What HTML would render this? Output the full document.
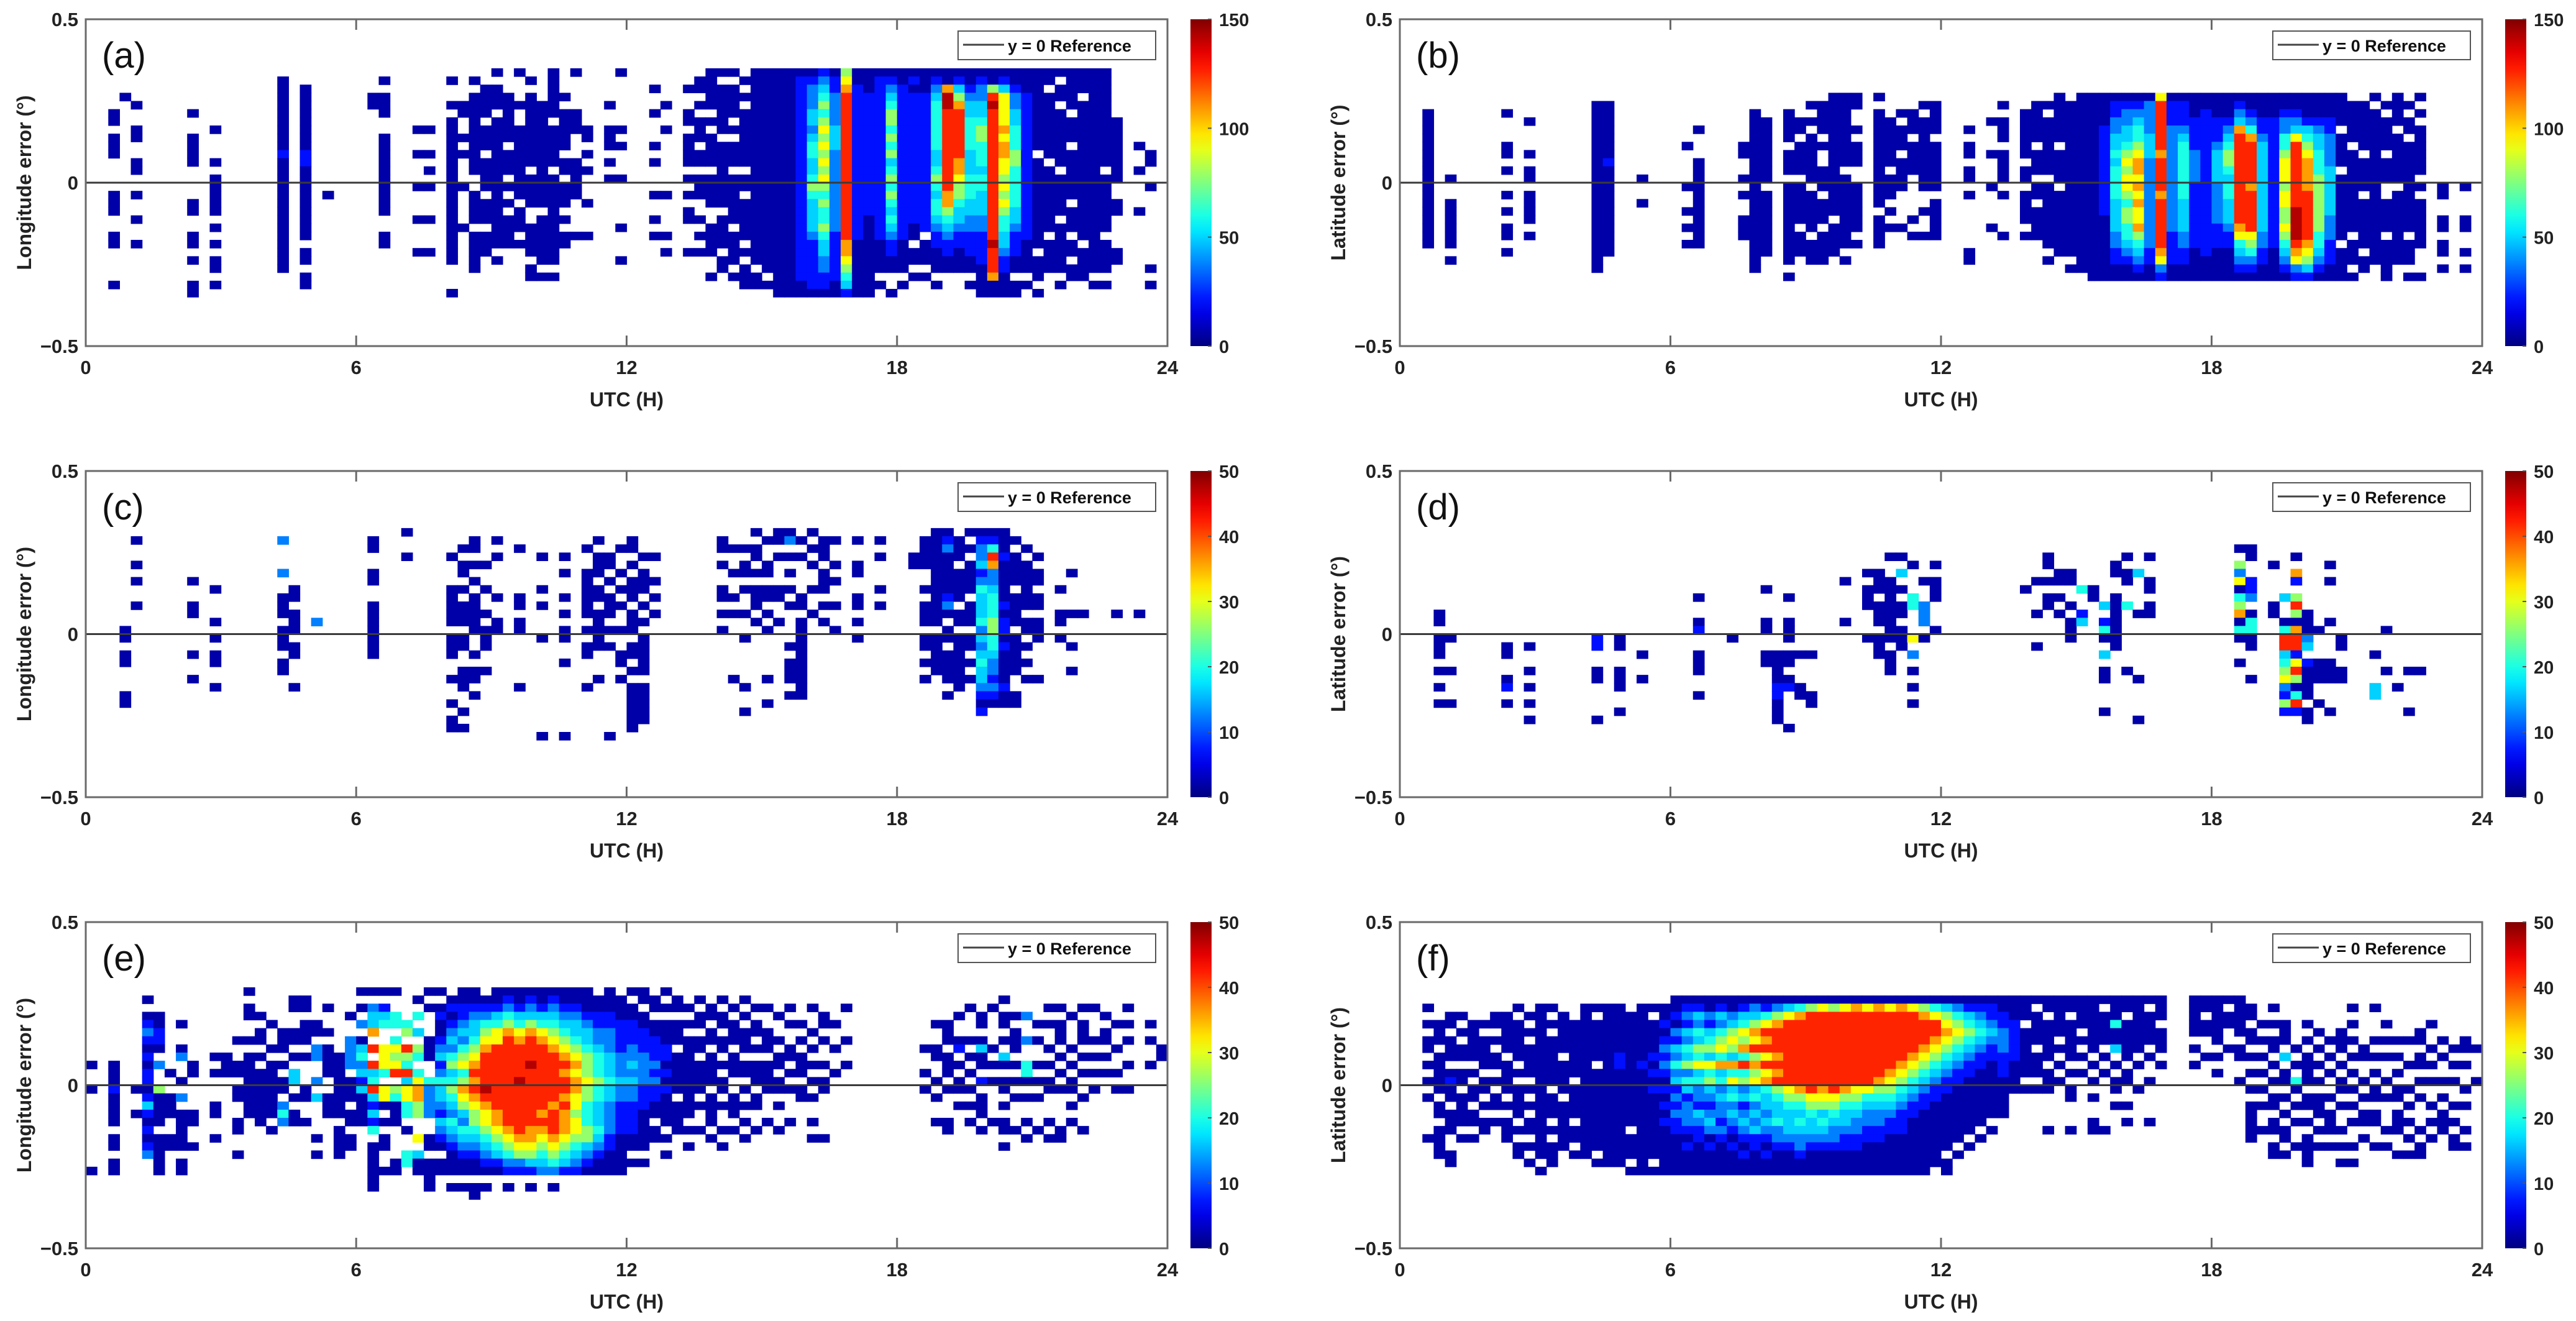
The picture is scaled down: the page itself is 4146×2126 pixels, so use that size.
<!DOCTYPE html>
<html><head><meta charset="utf-8"><style>
html,body{margin:0;padding:0;background:#fff;width:4146px;height:2126px;overflow:hidden}
svg{display:block;font-family:"Liberation Sans",Arial,sans-serif}
</style></head><body>
<svg id="fig" width="4146" height="2126" viewBox="0 0 4146 2126" xmlns="http://www.w3.org/2000/svg">
<defs><linearGradient id="jetgrad" x1="0" y1="1" x2="0" y2="0"></linearGradient></defs>
</svg>
<script>
// ---- data: columns "timeBin:levels" (time bin = 0.25 h; rows of 0.025 deg from +0.4 downward; '.' = empty; digit = count level)
const xTicks = [0, 6, 12, 18, 24];
const yTicks = [0.5, 0, -0.5];
const cbTicksAB = [0, 50, 100, 150];
const cbTicksCF = [0, 10, 20, 30, 40, 50];
const levelFrac = [0.04, 0.14, 0.25, 0.33, 0.40, 0.52, 0.62, 0.72, 0.84, 0.95];

const dataA = [
"2:.......00. 000....000 ..00....0.","3:.....0.... .......... ..........","4:......0..0 0..00..0.. 0..0......",
"9:.......0.. 0000....00 ..00.0..00","11:.........0 ...0.00000 .0.0.00.0.","17:...0000000 0010000000 0000000...",
"19:....000000 0011000000 000.00.00.","21:.......... .......0.. ..........","25:.....00... .......... ..........",
"26:...0.000.. 0000000000 ..00......","29:.........0 ..0...0... 0...0.....","30:.........0 ..0.0.0... 0...0.....",
"32:...0..0.00 0000000000 000000...0","33:......00.. 0.0...0... .0........","34:...0.00000 00000..000 0.00000...",
"35:....0000.0 00.0000.00 0.000.....","36:..0.000.00 0000000000 0000.0....","37:.....00000 0.000.0.0. 0000......",
"38:..0...0..0 00000000.0 00.0......","39:...0.00000 0000.0000. .0000.00..","40:......0000 000000000. 000000.0..",
"41:..000000.0 0000.00000 000000.0..","42:.....0.000 00.00.000. 0.00......","43:..0....000 ...00000.. ..0.......",
"44:.........0 0.0.0...0. ..0.......","46:......0..0 00.0.0.... ..........","47:..0......0 .0...0.... .0...0....",
"50:....0..0.. .0.0...0.. 0.0.......","51:......0..0 .......0.. ..0.0.....","53:....0..00. 0000.0.0.0 0...0.....",
"54:...00.0.00 0.00.000.. 0.0.0.....","55:..00000.0. 0000.0000. .0000..0..","56:..0.000000 .00000000. 0000.00...",
"57:..0.0000.0 .000.00000 0.0000.0..","58:...0.0.000 0000.00.00 000.0.000.","59:..00000000 0000000000 000000.00.",
"60:..00000000 0000000000 0000000.0.","61:..00000000 0000000000 0000000000","62:..00000000 0000000000 0000000000",
"63:..01111111 1111111111 1111111100","64:..01222332 3443345433 3321111110","65:..12345456 5656565454 4543322110",
"66:..01122223 3322222222 2211111100","67:..56788888 8888888888 8887765431","68:..00111111 1111111111 1110000000",
"69:..00011111 1111111111 0000000000","70:..01111111 1111111111 1110000.0.","71:..01234554 5453454543 4321100..0",
"72:..00111111 1111111111 1110000.0.","73:..01011111 1111111111 100.00.0..","74:..00011111 1111111111 11.000.0..",
"75:..01234444 4433454344 3211000.0.","76:..00799888 8888888775 4321100...","77:..01357888 8887765543 3211000...",
"78:..00123344 4433344433 2211100.0.","79:..01223345 5444344333 2211110000","80:..00589888 8888888888 8889888700",
"81:..01366667 6776656565 4433211000","82:..00122334 4455444443 3211100.00","83:..00011111 1111111111 1110000.0.",
"84:..00000000 00.0000000 0000.000.0","85:..00.00000 000.000000 00.0000...","86:..0.00.000 0000.00000 .000000.0.",
"87:..00000.00 0.000000.0 00.00.00..","88:..000.0000 0000000000 000.0000..","89:..00000000 0000000000 0000000.0.",
"90:..00000000 0000.00000 00.0000.0.","91:........00 000000..00 ....00....","93:.......... .0..0....0 ..........",
"94:.......... ..00..0... ......0.0."
];
const dataB = [
"2:.......000 0000000000 0000......","4:.......... .....0..00 0000.0....","9:.......0.. .00.0..0.0 .00.0.....",
"11:........0. ..0.00.000 0.0.......","17:......0000 0000000000 0000000...","18:......0000 0001000000 00000.....",
"21:.......... .....0..0. ..........","25:.......... .0....0..0 .0.0......","26:.........0 ...0000000 0000......",
"30:.......... .00..0.0.. 000.......","31:.......000 0000000000 0000000...","32:........00 000000.000 00000.....",
"34:.......000 0.000.0000 000000.0..","35:........00 .0000.0000 0.000.....","36:......0.0. 000000.000 00.000....",
"37:......0000 .0..000.00 0.0000....","38:.....00000 0000000000 .0000.....","39:.....00000 0000.00000 0000.0....",
"40:.....00..0 .000..0000 00.0......","42:.....0.000 000000000. 0000......","43:........00 0000.000.0 .0........",
"44:.......0.0 00.0000... .0........","45:.......000 .0000..... 0.0.......","46:......0.00 0000000..0 ..0.......",
"47:......0000 .000000.00 000.......","50:.........0 .00.00.0.. ....00....","52:........0. ..0...0... .0........",
"53:......0.00 0.0000.0.. ..0.......","55:.......000 000.00.000 0.0.......","56:......0000 0.000.00.0 000.......",
"57:......0.00 00000.0000 0000.0....","58:.....00000 0.0000.000 00000.....","59:......0000 0000000000 00000.0...",
"60:.....00000 0000000000 0000000...","61:.....00000 0000000000 00000000..","62:.....00001 1111111111 00000000..",
"63:.....01122 3343444433 33221100..","64:.....01223 3456566545 54432100..","65:.....01234 4567767676 67543210..",
"66:.....02222 3332222222 22221100..","67:.....68888 8878888788 88887621..","68:.....01112 2222222222 22111100..",
"69:.....01112 3444444433 33221100..","70:.....00011 1122221111 11110000..","71:.....00111 1111111111 11111000..",
"72:.....00011 1233332222 21110000..","73:.....00012 3455434433 32110000..","74:.....01237 8888888888 87643210..",
"75:.....00124 7888887888 88654210..","76:.....00011 2333333333 33221100..","77:.....00011 1111111111 11110000..",
"78:.....00122 4456665665 56543210..","79:.....00123 6888888889 99987621..","80:.....00013 4567777888 88876531..",
"81:.....00012 3344455555 55443210..","82:.....00011 2222333333 22211100..","83:.....0000. 0000.00000 000.0000..",
"84:......0000 0.00000000 00.000.0..","85:......0000 00.0000.00 0000.00...","86:.....0.000 0000000000 000000....",
"87:......0.00 00.000..00 00.00000..","88:.....0000. 000000.000 000000....","89:......0.00 .000000000 00.000.0..",
"90:.....0.0.0 00000.0.00 0000...0..","92:.......... ......00.. 00.00.0...","94:.......... ......0... 00..0.0..."
];
const dataC = [
"3:.......... .....00.00 ...00.....","4:....0..0.0 ..0....... ..........","9:.........0 ..00....0. .0........",
"11:.......... 0...0.0.00 ..0.......","17:....2...2. .000.000.0 0.........","18:.......... 00.000.00. ..0.......",
"20:.......... ....2..... ..........","25:....00..00 ..0000000. ..........","28:...0..0... .......... ..........",
"32:......0... 00000.000. .0..0.00..","33:.....0.00. 0.000.00.. 000..0.0..","34:....00.0.0 .00000..0. 00.0......",
"35:.......0.. 0..0.000.. 0.........","36:....0.0... .0..00.... ..........","38:.....0.... .00.00.... ..0.......",
"40:......0... 0.0...0... ........0.","42:......0.0. .0.0.00..0 ........0.","44:.....0..00 0000.0.00. ..0.......",
"45:....0.000. 00.00000.. .0........","46:......00.0 .000.0.0.. ........0.","47:.....0..0. 0.0..0..00 .0........",
"48:....00.0.0 00.000.00. 0.000000..","49:......0.00 0.0.0.0000 0.00000...","50:......0..0 .0.0...... ..........",
"56:....00.0.. 00.0.0.... ..........","57:.....0..0. .0.0...... .0........","58:.....0.00. 0..0..0... ..0..0....",
"59:...0.00.0. 000.0..... ..........","60:....0..00. 00.0.0.... .0..0.....","61:...00.0... 00..0..... ..........",
"62:...02.0.0. 0.0....0.0 00.0......","63:....0.0... .00.000000 0000......","64:...0.0.0.. 0..0...... ..........",
"65:....000.00 0.0.0..... ..........","66:....0..0.0 ..0..0.... ..........","68:....0..00. .00.0.0... ..........",
"70:....0.0... 0.0....... ..........","73:......00.. .......... ..........","74:....0000.. 0.000.00.0 .0........",
"75:...0000000 00000.0000 0.........","76:...0120000 0120.00.00 00.0......","77:....000.00 00.00.0000 000.......",
"78:...0.0.000 0.000.00.0 .0........","79:...0122312 4333423234 332101....","80:...0148722 3444554432 21210.....",
"81:...0001000 0010110100 00100.....","82:....0.0000 .0000.0000 0..00.....","83:.....0.000 000.00.0.0 .0........",
"84:......0.00 .00.000... .0........","86:.......... 0..00.0... ..........","87:........0. ...0...0.. 0.........",
"88:.......... ...0...... ..........","91:.......... ...0...... ..........","93:.......... ...0...... .........."
];
const dataD = [
"3:.......... ...00.000. 0.0.0.....","4:.......... ......0... 0...0.....","9:.......... .......00. .01.0.....",
"11:.......... .......0.. 0.0.0.0...","17:.......... ......11.. 00....0...","19:.......... ......00.. 000..0....",
"21:.......... ........0. .0........","26:.......... .0..01..00 0..0......","29:.......... ......0... ..........",
"32:.......... 0...00..00 ..........","33:.......... ........00 0011000...","34:.......... .0..000.00 .01....0..",
"35:.......... ........0. ..00......","36:.......... ........0. ...00.....","39:.........0 ....0..... ..........",
"41:........0. 000...0... ..........","42:........00 0.000.000. ..........","43:......0..0 0000000.00 0.........",
"44:......0.3. 0.00.000.. ..........","45:.......0.. .44...6.2. 0.0.0.....","46:.........0 ..222.0... ..........",
"47:.......0.0 00...0.... ..........","55:.......... 0......... ..........","56:.........0 ...0...0.. ..........",
"57:......00.0 .00....... ..........","58:........00 .0.0...... ..........","59:........00 ..0.000... ..........",
"60:.......... 4..13..... ..........","61:.......... 00........ ..........","62:.......... ..3.140.3. 00...0....",
"63:.......00. .0000000.. ..........","64:......0.00 ..4....... 0.........","65:........3. ...0...... .0....0...",
"66:......0..0 0.00...... ..........","74:.....0.526 0457040..0 ..........","75:.....00..1 12.04400.. .0........",
"77:.......0.. ..00...... ..........","78:.......... .3..048834 562151....","79:......0.71 .585078816 850481....",
"80:.......... ...00023.1 0000.00...","81:.......... .....0...0 00..0.....","82:.......0.0 ....0....0 00...0....",
"83:.......... ......00.. 00........","86:.......... ........0. ..33......","87:.......... .....0.... 0.........",
"88:.......... .......... ..0.......","89:.......... .......... 0....0....","90:.......... .......... 0........."
];
const dataE = [
"0:.......... ...0..0... ......0...","2:.......... ...0001000 0.00.00...","4:.......... ......0..0 ..........",
"5:.....0.012 1010110131 01012.....","6:.......001 10.2..5000 0.00000...","7:.......... ....0..000 ..00......",
"8:........0. .02..0.2.0 0000.00...","9:.......... ...00....0 0..0......","11:.......... ..0.0...00 ..0.......",
"12:.......... ..000..... ..........","13:.......... 0..00.00.. 00..0.....","14:....0.00.. 0.00000000 ..........",
"15:.......0.0 0.0.000000 0.........","16:........0. .0.0000000 .0........","17:.........0 00.0.00.24 2.........",
"18:.....00..0 0.0.33.0.0 0.........","19:.....00.00 0.0...00.. 0.........","20:........00 .22..2.3.. ..0.0.....",
"21:......0..0 .0000..000 ..........","22:.......... ..00000000 .0000.....","23:.......0.. 2222.000.0 0.00......",
"24:....0.0.2. 0342313000 0.........","25:....0.2337 .8.8348313 14.000000.","26:....0.134. .6664.660. 0.00..0...",
"27:....0..44. 46568.5400 0....00...","28:........45 .854836644 .0..44....","29:.....0.4.3 .54.467755 ..6.300...",
"30:....0.0... 000..42222 ..00.0000.","31:....0.0100 1231243321 3210.00...","32:.....01012 3245345432 4321000.0.",
"33:....001123 2456457653 2432100.0.","34:....001233 4567878765 5432100.00","35:.....01245 6788889876 6543210.0.",
"36:....001346 6888888887 7654310...","37:....012457 8888888888 8765421.0.","38:....001346 7888898888 8876521...",
"39:....012357 8889888888 8776531.0.","40:....001346 7888888887 8765432...","41:....012345 6788888878 8876542.0.",
"42:....001234 5678788787 7765431...","43:....001233 4567677665 6654321...","44:....000123 3455565544 4553210...",
"45:.....00112 2344454433 3432100...","46:....000112 2233343322 2211000...","47:.....00011 1122232211 1100000...",
"48:....0.0011 1223232211 1100.0....","49:....00.001 1122221110 0000.0....","50:.....00.00 1112121100 .00.......",
"51:....0.0.00 0110101000 0.0.0.....","52:.....00.00 0.00000.00 00........","53:......0.0. 0000000000 .0.0......",
"54:.....0.00. 00.0000.0. .0........","55:......00.0 0.0000.000 0.0.......","56:.....0.00. 00.0.00.0. .0.0......",
"57:......0.00 0.000..000 .0........","58:.....0.0.0 00.00.0.0. 0.0.......","59:......0.00 .0.000.00. .0........",
"60:......0..0 00.0000... 0.........","61:.......0.. 0.00.00.0. .0........","62:......0.0. .00.0.0... 0.........",
"63:........0. 0.000.00.. ..........","64:......0..0 .0.0.0.0.. 0.0.......","65:.......00. 0..0.00... ..0.......",
"66:........0. .0..0..... ..........","67:......0... 0..0...... ..........","74:.......... .0..0.0... ..........",
"75:........0. .00..0.0.. 0.........","76:........00 0.000.0... 00........","77:.......0.. 01.0.00.0. ..........",
"78:......0... 0.0.0.0.0. 0.........","79:.......00. 0300.1.000 .0........","80:......0... .0.0.0.... 0.........",
"81:.....0.00. 0.30.00.0. 00.0......","82:.......0.0 00.0.0.0.. .0........","83:.......2.. 2..440.0.. 0.0.......",
"84:........0. 0..0.0.0.. .0........","85:......0.0. .0.0.00... 0.0.......","86:......0.00 0.0.0.0... .00.......",
"87:.......0.. .0.0.00.0. 0.........","88:......0.00 0.0.0..0.. .0........","89:......0... 0.0.0.0... ..........",
"90:.......0.0 0.0.0..... ..........","91:........0. .0..0.0... ..........","92:......0.0. 0..0..0... ..........",
"94:........0. 0..0...... ..........","95:.......... .00....... .........."
];
const dataF = [
"2:......0.0. 00.0.0.0.. ..0.......","3:........00 0.00000.00 .0000.....","4:.......00. 000.0100.0 00..00....",
"5:.......0.0 .00.00.000 0.0.......","6:........00 000.0.00.0 0.0.......","7:........0. 0000.00.0. 00........",
"8:.......00. 0.00.0.00. 0.........","9:.......000 00.0000.0. 000.......","10:......0.00 000.0.0000 .0.00.....",
"11:.......0.0 .0000.0.0. 00.0.0....","12:......0000 0000000000 00000.0...","13:......0.0. 000000.000 .0.000....",
"14:.......000 00.0000.00 0000......","15:........00 00000.0000 .00.0.....","16:......0000 0000000000 00000.....",
"17:......0.00 000.000000 0000.0....","18:......0000 0000000000 000000....","19:......0000 0011000000 000000....",
"20:.......000 0000000000 0.000.0...","21:......0000 0001000000 0000000...","22:......0.00 0010101000 00000.0...",
"23:......0010 1212101010 1000000...","24:.....00102 1324231212 1100000...","25:.....01213 2435243122 2101000...",
"26:.....01324 3546342213 2110000...","27:.....00213 4536453212 3201000...","28:.....01324 5647342322 1210000...",
"29:.....00235 6537463423 2101000...","30:.....01346 5748452312 3210100...","31:.....02357 6857563423 2311000...",
"32:.....01468 7868674332 3210100...","33:.....02578 8878785433 4221000...","34:.....03688 8888886543 3321000...",
"35:.....04788 8888887543 4322100...","36:.....05888 8888888654 3321000...","37:.....06888 8888887653 4321000...",
"38:.....05888 8888888654 3221000...","39:.....06888 8888887543 3211000...","40:.....07888 8888886543 2211000...",
"41:.....06888 8888886432 2110000...","42:.....07888 8888875432 2110000...","43:.....06888 8888765432 1100000...",
"44:.....07888 8887654321 1100000...","45:.....06888 8876543211 0000000...","46:.....05788 8765432110 0000000...",
"47:.....04688 7654321100 000000...","48:.....03567 6543211000 0000.00..","49:.....02456 5432110000 000.0.....",
"50:.....01345 4321100000 00.0......","51:.....01234 3211000000 0.0.......","52:.....01123 2110000000 .0........",
"53:.....00112 2211100000 ..........","54:.....00011 1110000... ..........","55:.....000.0 00000.0... ..........",
"56:.....0.000 0.000.0... ..........","57:.....00.00 000.000... .0........","58:.....00000 .0.0.0.... ..........",
"59:.....00.00 000.0.00.. .0........","60:.....0000. 0.0.0..... ..........","61:.....00000 00.0.0.0.. 00........",
"62:.....0.000 0.0.0..... .0........","63:.....00040 03.0.00.0. ..........","64:.....00.00 000.00..0. 0.........",
"65:.....00000 00.0..0... ..........","66:.....0.000 0.0..0.... 0.........","67:.....000.0 00.0...... ..........",
"70:.....00000 .0.0...... ..........","71:.....00.00 ..0....... ..........","72:.....00000 0.0.0..... ..........",
"73:.....0.00. .0........ ..........","74:.....00000 .00..0.... ..........","75:......00.0 0.0.0.0.00 000.......",
"76:........0. 0.0.0.0.0. .0........","77:......0.0. 00.0.0.00. 00.00.....","78:........00 0.3.00.0.0 .00.0.....",
"79:.......... .0.0.40.0. 0..0......","80:........0. 0.0000.00. 0.0000....","81:.........0 .0.0.0.000 .0.0......",
"82:.......... 0.0.0..0.0 00.0......","83:.........0 00.0.00.0. .0.0.0....","84:......0.0. 0.0.0.0.0. 0..0.0....",
"85:.......... .00..0.0.0 0.0.......","86:......0... 0.0.0.00.0 0..0......","87:........0. 0.0..0.0.. .0.0......",
"88:.......... 0.0.0.00.0 00..0.....","89:.......... 0..0..0.0. 0.0.0.....","90:.........0 0.00.0.0.. .0.00.....",
"91:........0. .0.0.0..0. 0.0.......","92:.......... 0.0..0.0.0 00........","93:.......... .0.0.0..0. 0.00......",
"94:.......... 00.0..0.0. .0.0......","95:.......... .0...0.... .........."
];

// ---- layout
const NS = 'http://www.w3.org/2000/svg';
const svg = document.getElementById('fig');
const panels = [
  {tag:'a', data:dataA, vmax:150, cb:cbTicksAB, L:138, R:1879, T:31, B:557, cbx:1916, ylab:'Longitude error (°)'},
  {tag:'b', data:dataB, vmax:150, cb:cbTicksAB, L:2253, R:3995, T:31, B:557, cbx:4032, ylab:'Latitude error (°)'},
  {tag:'c', data:dataC, vmax:50, cb:cbTicksCF, L:138, R:1879, T:758, B:1283, cbx:1916, ylab:'Longitude error (°)'},
  {tag:'d', data:dataD, vmax:50, cb:cbTicksCF, L:2253, R:3995, T:758, B:1283, cbx:4032, ylab:'Latitude error (°)'},
  {tag:'e', data:dataE, vmax:50, cb:cbTicksCF, L:138, R:1879, T:1484, B:2009, cbx:1916, ylab:'Longitude error (°)'},
  {tag:'f', data:dataF, vmax:50, cb:cbTicksCF, L:2253, R:3995, T:1484, B:2009, cbx:4032, ylab:'Latitude error (°)'}
];
function clamp(v){return Math.max(0,Math.min(1,v));}
function jet(t){
  const r=clamp(1.5-Math.abs(4*t-3)), g=clamp(1.5-Math.abs(4*t-2)), b=clamp(1.5-Math.abs(4*t-1));
  return 'rgb('+Math.round(r*255)+','+Math.round(g*255)+','+Math.round(b*255)+')';
}
function mk(tag, attrs, parent){
  const e=document.createElementNS(NS,tag);
  for(const k in attrs) e.setAttribute(k, attrs[k]);
  (parent||svg).appendChild(e); return e;
}
const grad=document.getElementById('jetgrad');
for(let i=0;i<=20;i++){ mk('stop',{offset:(i/20),'stop-color':jet(i/20)},grad); }

panels.forEach(p=>{
  const g=mk('g',{});
  
  
  const xS=h=>p.L+h/24*(p.R-p.L);
  const yS=v=>p.T+(0.5-v)*(p.B-p.T);
  const cells=mk('g',{},g);
  
  
  p.data.forEach(entry=>{
    const parts=entry.split(':');
    const c=parseInt(parts[0],10);
    const s=parts[1].replace(/ /g,'');
    for(let r=0;r<s.length;r++){
      const ch=s[r]; if(ch==='.') continue;
      const count=levelFrac[+ch]*p.vmax;
      const t0=c*0.25, vTop=0.4-0.025*r;
      const x0=xS(t0), x1=xS(t0+0.25), y0=yS(vTop), y1=yS(vTop-0.025);
      const rc=mk('rect',{x:x0.toFixed(2),y:y0.toFixed(2),width:(x1-x0+0.6).toFixed(2),height:(y1-y0+0.6).toFixed(2),fill:jet(count/p.vmax)},cells);
      
      
    }
  });
  const zl=mk('line',{x1:p.L,x2:p.R,y1:yS(0),y2:yS(0),stroke:'#3a3a3a','stroke-width':3},g);
  
  
  const box=mk('rect',{x:p.L,y:p.T,width:p.R-p.L,height:p.B-p.T,fill:'none',stroke:'#6a6a6a','stroke-width':3},g);
  
  
  xTicks.forEach(h=>{
    const x=xS(h);
    if(h>0&&h<24){
      mk('line',{x1:x,x2:x,y1:p.B,y2:p.B-17,stroke:'#6a6a6a','stroke-width':3},g);
      mk('line',{x1:x,x2:x,y1:p.T,y2:p.T+17,stroke:'#6a6a6a','stroke-width':3},g);
    }
    const t=mk('text',{x:x,y:p.B+45,'text-anchor':'middle','font-size':31,'font-weight':'bold',fill:'#222'},g);
    t.textContent=String(h);
    
    
  });
  yTicks.forEach(v=>{
    const t=mk('text',{x:p.L-12,y:yS(v)+11,'text-anchor':'end','font-size':31,'font-weight':'bold',fill:'#222'},g);
    t.textContent=v===0?'0':(v>0?'0.5':'\u22120.5');
    
    
  });
  const xt=mk('text',{x:(p.L+p.R)/2,y:p.B+97,'text-anchor':'middle','font-size':32,'font-weight':'bold',fill:'#222'},g);
  xt.textContent='UTC (H)';
  
  
  const cy=(p.T+p.B)/2, cx=p.L-88;
  const yt=mk('text',{x:cx,y:cy,'text-anchor':'middle','font-size':32,'font-weight':'bold',fill:'#222',transform:'rotate(-90 '+cx+' '+cy+')'},g);
  yt.textContent=p.ylab;
  
  
  const pl=mk('text',{x:p.L+26,y:p.T+78,'font-size':58,fill:'#111'},g);
  pl.textContent='('+p.tag+')';
  
  
  const lg=mk('g',{},g);
  
  
  const lx=p.R-337, ly=p.T+19;
  mk('rect',{x:lx,y:ly,width:318,height:46,fill:'#fff',stroke:'#555','stroke-width':2},lg);
  mk('line',{x1:lx+8,x2:lx+74,y1:ly+22,y2:ly+22,stroke:'#444','stroke-width':3},lg);
  const lt=mk('text',{x:lx+80,y:ly+33,'font-size':27,'font-weight':'bold',fill:'#111'},lg);
  lt.textContent='y = 0 Reference';
  
  
  const cbg=mk('g',{},g);
  
  
  mk('rect',{x:p.cbx,y:p.T,width:34,height:p.B-p.T,fill:'url(#jetgrad)'},cbg);
  const cmax=p.cb[p.cb.length-1];
  p.cb.forEach(v=>{
    const y=p.B-(v/cmax)*(p.B-p.T);
    mk('line',{x1:p.cbx+34,x2:p.cbx+28,y1:y,y2:y,stroke:'#555','stroke-width':2},cbg);
    const t=mk('text',{x:p.cbx+46,y:y+11,'font-size':29,'font-weight':'bold',fill:'#222'},cbg);
    t.textContent=String(v);
    
    
  });
});
</script>
</body></html>
